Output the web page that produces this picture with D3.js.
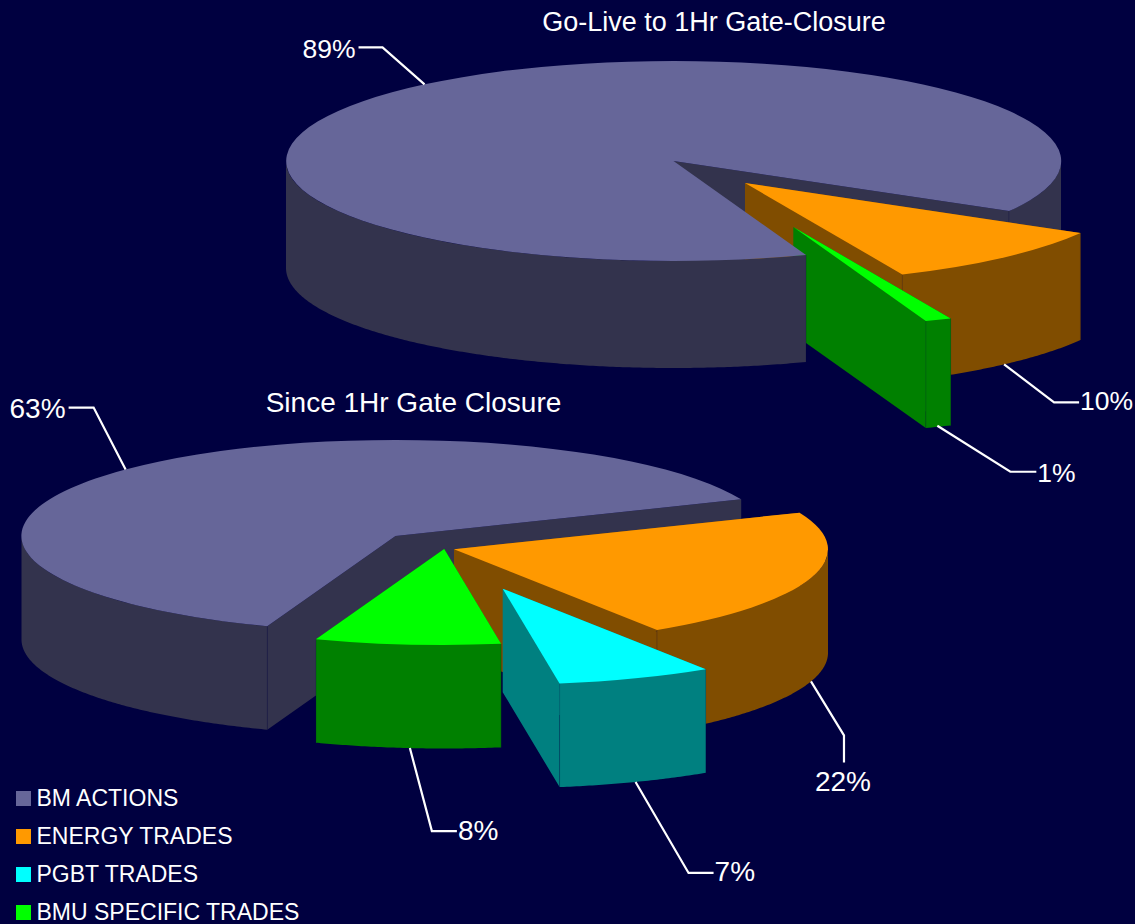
<!DOCTYPE html>
<html>
<head>
<meta charset="utf-8">
<script src="https://cdn.jsdelivr.net/npm/d3@7"></script>
<style>
  html, body { margin: 0; padding: 0; background: #000040; overflow: hidden; }
  text { font-family: "Liberation Sans", Arial, sans-serif; fill: #fff; }
</style>
</head>
<body>
<svg id="chart" width="1135" height="924"></svg>
<script>
const categories = ['BM ACTIONS', 'ENERGY TRADES', 'PGBT TRADES', 'BMU SPECIFIC TRADES'];
const colors = ['#666699', '#ff9900', '#00ffff', '#00ff00'];
const wallColors = ['#33334d', '#804d00', '#008080', '#008000'];

const goLiveTitle = 'Go-Live to 1Hr Gate-Closure';
const goLiveCategories = ['BM ACTIONS', 'ENERGY TRADES', 'BMU SPECIFIC TRADES'];
const goLiveValues = [88.9, 10, 1.1];

const sinceTitle = 'Since 1Hr Gate Closure';
const sinceCategories = ['BM ACTIONS', 'ENERGY TRADES', 'PGBT TRADES', 'BMU SPECIFIC TRADES'];
const sinceValues = [63.2, 22.1, 6.7, 8];

// pie geometry, offsets are how far each slice is pulled out of the pie
const pies = [
  {
    title: goLiveTitle, titleX: 714, titleY: 31, fontSize: 27, labelSize: 26.5,
    names: goLiveCategories, values: goLiveValues,
    cx: 673.5, cy: 161, rx: 387.5, ry: 100, depth: 107, start: 160,
    offsets: [[0, 0], [71.5, 22], [119.8, 66]],
    leaders: [
      { elbow: [-42, -37], tail: [-24, 0], anchor: 'end', dy: 11 },
      { elbow: [50, 38], tail: [25, 0], anchor: 'start', dy: 8 },
      { nudge: [-1, -1], elbow: [73, 46], tail: [26, 0], anchor: 'start', dy: 10 }
    ]
  },
  {
    title: sinceTitle, titleX: 413.5, titleY: 412, fontSize: 28, labelSize: 28,
    names: sinceCategories, values: sinceValues,
    cx: 395.5, cy: 536, rx: 374, ry: 96, depth: 103.5, start: 200.05,
    offsets: [[0, 0], [58.5, 13.3], [107.2, 52.7], [48.7, 13]],
    leaders: [
      { elbow: [-32, -62], tail: [-25, 0], anchor: 'end', dy: 10 },
      { elbow: [33, 54], tail: [0, 27], anchor: 'middle', dy: 29 },
      { elbow: [53, 91], tail: [25, 0], anchor: 'start', dy: 8 },
      { nudge: [2.5, 0], elbow: [22, 83], tail: [25, 0], anchor: 'start', dy: 9 }
    ]
  }
];

const rad = Math.PI / 180;
const svg = d3.select('#chart');
const color = d3.scaleOrdinal().domain(categories).range(colors);
const wallColor = d3.scaleOrdinal().domain(categories).range(wallColors);
const percent = d3.format('.0f');

pies.forEach(p => {
  const g = svg.append('g');
  const slices = d3.pie().sort(null)
    .startAngle(p.start * rad)
    .endAngle((p.start + 360) * rad)(p.values);

  const x = d3.scaleLinear().domain([-1, 1]).range([-p.rx, p.rx]);
  const y = d3.scaleLinear().domain([-1, 1]).range([-p.ry, p.ry]);
  // d3 arc angles run clockwise from twelve o'clock
  const px = a => x(Math.sin(a));
  const py = a => y(-Math.cos(a));
  const arc = d3.arc().innerRadius(0).outerRadius(1);
  const wall = d3.area()
    .x(d => d[0])
    .y0(d => d[1])
    .y1(d => d[1] + p.depth);

  const sliceGroup = i => g.append('g')
    .attr('transform', `translate(${p.cx + p.offsets[i][0]},${p.cy + p.offsets[i][1]})`);

  // both cut faces in one path so no seam shows at the apex
  const drawCuts = (sel, s, name) => {
    const d = [s.startAngle, s.endAngle]
      .map(a => wall([[0, 0], [px(a), py(a)]]))
      .join('');
    sel.append('path')
      .attr('d', d)
      .attr('fill', wallColor(name));
  };

  // outer wall between lo and hi, clipped to the slice
  const drawRim = (sel, s, name, lo, hi) => {
    const a0 = Math.max(s.startAngle, lo * rad);
    const a1 = Math.min(s.endAngle, hi * rad);
    if (a1 <= a0) return;
    const angles = d3.range(a0, a1, rad / 2).concat(a1);
    sel.append('path')
      .attr('d', wall(angles.map(a => [px(a), py(a)])))
      .attr('fill', wallColor(name));
    // faint seam where the rim meets a cut face
    [a0, a1].forEach(a => {
      if (a !== s.startAngle && a !== s.endAngle) return;
      sel.append('line')
        .attr('x1', px(a)).attr('x2', px(a))
        .attr('y1', py(a)).attr('y2', py(a) + p.depth)
        .attr('stroke', '#000040')
        .attr('stroke-opacity', 0.3)
        .attr('stroke-width', 0.7);
    });
  };

  const drawTop = (sel, s, name) => {
    sel.append('path')
      .attr('transform', `scale(${p.rx},${p.ry})`)
      .attr('d', arc(s))
      .attr('fill', color(name));
  };

  // the big slice is split: its back goes under the pulled out slices, its front over them
  const big = sliceGroup(0);
  drawCuts(big, slices[0], p.names[0]);
  drawRim(big, slices[0], p.names[0], 450, 630);

  slices.slice(1).forEach((s, k) => {
    const i = k + 1;
    const sel = sliceGroup(i);
    drawCuts(sel, s, p.names[i]);
    drawRim(sel, s, p.names[i], 90, 270);
    drawRim(sel, s, p.names[i], 450, 630);
    drawTop(sel, s, p.names[i]);
  });

  const bigFront = sliceGroup(0);
  drawRim(bigFront, slices[0], p.names[0], 90, 270);
  drawTop(bigFront, slices[0], p.names[0]);

  // leader lines start at the middle of each slice's rim
  slices.forEach((s, i) => {
    const [ox, oy] = p.offsets[i];
    const mid = (s.startAngle + s.endAngle) / 2;
    const front = Math.sin(mid - Math.PI / 2) > 0;
    const l = p.leaders[i];
    const [nx, ny] = l.nudge || [0, 0];
    const ax = p.cx + ox + px(mid) + nx;
    const ay = p.cy + oy + py(mid) + ny + (front ? p.depth : 0);
    const ex = ax + l.elbow[0];
    const ey = ay + l.elbow[1];
    const tx = ex + l.tail[0];
    const ty = ey + l.tail[1];

    g.append('path')
      .attr('d', d3.line()([[ax, ay], [ex, ey], [tx, ty]]))
      .attr('fill', 'none')
      .attr('stroke', '#fff')
      .attr('stroke-width', 2.2);

    const gap = l.anchor === 'start' ? 1 : l.anchor === 'end' ? -3 : -1;
    g.append('text')
      .attr('x', tx + gap)
      .attr('y', ty + l.dy)
      .attr('text-anchor', l.anchor)
      .style('font-size', `${p.labelSize}px`)
      .text(`${percent(p.values[i])}%`);
  });

  g.append('text')
    .attr('x', p.titleX)
    .attr('y', p.titleY)
    .attr('text-anchor', 'middle')
    .style('font-size', `${p.fontSize}px`)
    .text(p.title);
});

// legend
const legendY = d3.scalePoint().domain(categories).range([798.5, 912.5]);
const legend = svg.append('g');
categories.forEach(c => {
  legend.append('rect')
    .attr('x', 16)
    .attr('y', legendY(c) - 7.5)
    .attr('width', 15)
    .attr('height', 15)
    .attr('fill', color(c));
  legend.append('text')
    .attr('x', 36.5)
    .attr('y', legendY(c) + 7)
    .style('font-size', '23px')
    .text(c);
});
</script>
</body>
</html>
